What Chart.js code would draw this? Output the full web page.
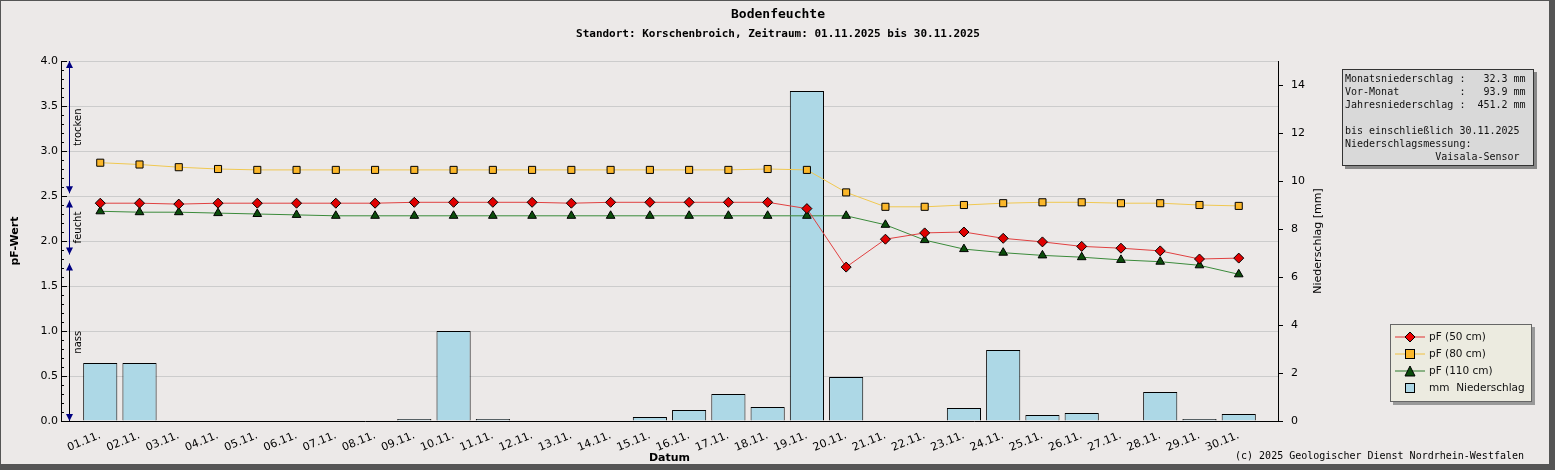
<!DOCTYPE html>
<html><head><meta charset="utf-8">
<script src="https://cdn.jsdelivr.net/npm/chart.js@4.4.7/dist/chart.umd.min.js"></script>
<style>
body{margin:0;background:#ece9e8;}
#wrap{position:relative;width:1555px;height:470px;box-sizing:border-box;border:1px solid #555;border-right:6px solid #555;border-bottom:6px solid #555;}
canvas{position:absolute;left:0;top:0;}
.box{position:absolute;font-family:"DejaVu Sans Mono",monospace;font-size:10px;line-height:13px;color:#111;}
#info{left:1341px;top:68px;width:186px;padding:2px 2px;background:#d9d9d9;border:1px solid #333;box-shadow:3px 3px 0 #888;white-space:pre;}
#leg{left:1389px;top:323px;width:132px;height:70px;padding:3px 4px;background:#ecebe0;border:1px solid #666;box-shadow:3px 3px 0 #999;font-family:"DejaVu Sans",sans-serif;font-size:10.5px;line-height:17px;}
.r{display:flex;align-items:center}.r span{width:30px;display:inline-block;position:relative;height:14px;margin-right:4px}
</style></head><body>
<div id="wrap">
<canvas id="c" width="1549" height="464"></canvas>
<div id="info" class="box">Monatsniederschlag :   32.3 mm
Vor-Monat          :   93.9 mm
Jahresniederschlag :  451.2 mm

bis einschließlich 30.11.2025
Niederschlagsmessung:
               Vaisala-Sensor</div>
<div id="leg" class="box">
<div class="r"><span><svg width="30" height="14"><line x1="0" y1="7" x2="30" y2="7" stroke="#e03030"/><polygon points="15,2 20,7 15,12 10,7" fill="#e00" stroke="#000"/></svg></span>pF (50 cm)</div>
<div class="r"><span><svg width="30" height="14"><line x1="0" y1="7" x2="30" y2="7" stroke="#f0c040"/><rect x="10.5" y="2.5" width="9" height="9" fill="#fbb72a" stroke="#000"/></svg></span>pF (80 cm)</div>
<div class="r"><span><svg width="30" height="14"><line x1="0" y1="7" x2="30" y2="7" stroke="#2a7a2a"/><polygon points="15,2 20,12 10,12" fill="#0b4d0b" stroke="#000"/></svg></span>pF (110 cm)</div>
<div class="r"><span><svg width="30" height="14"><rect x="10.5" y="2.5" width="9" height="9" fill="#add8e6" stroke="#000"/></svg></span>mm&nbsp; Niederschlag</div>
</div>
</div>
<script>
const days = ["01.11.","02.11.","03.11.","04.11.","05.11.","06.11.","07.11.","08.11.","09.11.","10.11.","11.11.","12.11.","13.11.","14.11.","15.11.","16.11.","17.11.","18.11.","19.11.","20.11.","21.11.","22.11.","23.11.","24.11.","25.11.","26.11.","27.11.","28.11.","29.11.","30.11."];
const pf50 = [2.42,2.42,2.41,2.42,2.42,2.42,2.42,2.42,2.43,2.43,2.43,2.43,2.42,2.43,2.43,2.43,2.43,2.43,2.36,1.71,2.02,2.09,2.10,2.03,1.99,1.94,1.92,1.89,1.80,1.81];
const pf80 = [2.87,2.85,2.82,2.80,2.79,2.79,2.79,2.79,2.79,2.79,2.79,2.79,2.79,2.79,2.79,2.79,2.79,2.80,2.79,2.54,2.38,2.38,2.40,2.42,2.43,2.43,2.42,2.42,2.40,2.39];
const pf110 = [2.33,2.32,2.32,2.31,2.30,2.29,2.28,2.28,2.28,2.28,2.28,2.28,2.28,2.28,2.28,2.28,2.28,2.28,2.28,2.28,2.18,2.01,1.91,1.87,1.84,1.82,1.79,1.77,1.73,1.63];
const rain = [2.42,2.42,0,0,0,0,0,0,0.08,3.75,0.08,0,0,0,0.17,0.46,1.12,0.58,13.75,1.83,0,0,0.54,2.96,0.25,0.33,0,1.21,0.08,0.29];
const zones = [["trocken",4.0,2.53,"#000080"],["feucht",2.45,1.85,"#000080"],["nass",1.75,0.0,"#000"]];

const pts = a => a.map((v,i)=>({x:i+1,y:v}));
const F = "'DejaVu Sans',sans-serif";

const deco = {
  id:"deco",
  afterDraw(ch){
    const c=ch.ctx, y=ch.scales.y, a=ch.chartArea;
    c.save();
    c.fillStyle="#000";c.textAlign="center";
    c.font="bold 13px 'DejaVu Sans Mono',monospace";c.fillText("Bodenfeuchte",777,17);
    c.font="bold 11px 'DejaVu Sans Mono',monospace";c.fillText("Standort: Korschenbroich, Zeitraum: 01.11.2025 bis 30.11.2025",777,36);
    c.font="10px 'DejaVu Sans Mono',monospace";c.textAlign="right";
    c.fillText("(c) 2025 Geologischer Dienst Nordrhein-Westfalen",1523,458);
    c.save();c.translate(1320,(a.top+a.bottom)/2);c.rotate(-Math.PI/2);
    c.textAlign="center";c.font="11px "+F;c.fillText("Niederschlag [mm]",0,0);c.restore();
    // minor ticks
    c.strokeStyle="#000";c.lineWidth=1;
    for(let v=0;v<=4.001;v+=0.1){const p=Math.round(y.getPixelForValue(v))+0.5;c.beginPath();c.moveTo(a.left,p);c.lineTo(a.left+(Math.round(v*10)%5===0?6:3),p);c.stroke();}
    const x=68.5;
    zones.forEach(([t,v1,v2,col])=>{
      const p1=y.getPixelForValue(v1),p2=y.getPixelForValue(v2);
      c.strokeStyle=col;c.beginPath();c.moveTo(x,p1);c.lineTo(x,p2);c.stroke();
      c.fillStyle="#000080";
      c.beginPath();c.moveTo(x,p1);c.lineTo(x-3.5,p1+7);c.lineTo(x+3.5,p1+7);c.fill();
      c.beginPath();c.moveTo(x,p2);c.lineTo(x-3.5,p2-7);c.lineTo(x+3.5,p2-7);c.fill();
      c.save();c.translate(x+11,(p1+p2)/2);c.rotate(-Math.PI/2);
      c.fillStyle="#000";c.textAlign="center";c.font="10px "+F;c.fillText(t,0,0);c.restore();
    });
    c.restore();
  }
};

new Chart(document.getElementById("c"),{
  data:{datasets:[
    {type:"line",label:"pF (50 cm)",data:pts(pf50),yAxisID:"y",borderColor:"#e04040",borderWidth:1,pointStyle:"rectRot",pointRadius:5,pointBackgroundColor:"#e00000",pointBorderColor:"#000",pointBorderWidth:1,order:1},
    {type:"line",label:"pF (80 cm)",data:pts(pf80),yAxisID:"y",borderColor:"#f0c850",borderWidth:1,pointStyle:"rect",pointRadius:5,pointBackgroundColor:"#fbb72a",pointBorderColor:"#000",pointBorderWidth:1,order:2},
    {type:"line",label:"pF (110 cm)",data:pts(pf110),yAxisID:"y",borderColor:"#3a8a3a",borderWidth:1,pointStyle:"triangle",pointRadius:5,pointBackgroundColor:"#0b4d0b",pointBorderColor:"#000",pointBorderWidth:1,order:3},
    {type:"bar",label:"mm Niederschlag",data:pts(rain),yAxisID:"y2",backgroundColor:"#add8e6",borderColor:"#000",borderWidth:1,barPercentage:0.87,categoryPercentage:1,order:4}
  ]},
  options:{
    animation:false,responsive:false,
    layout:{padding:{top:60,right:232,bottom:0,left:0}},
    plugins:{legend:{display:false},tooltip:{enabled:false}},
    scales:{
      x:{type:"linear",min:0,max:31,offset:false,
        afterBuildTicks(s){s.ticks=days.map((d,i)=>({value:i+1}));},
        afterFit(s){s.height=44;},
        grid:{display:false,drawTicks:true,tickLength:5,color:"#000"},border:{color:"#000"},
        ticks:{autoSkip:false,minRotation:22,maxRotation:22,color:"#000",font:{family:F,size:11},callback:v=>days[v-1]||""},
        title:{display:true,text:"Datum",color:"#000",font:{family:F,size:11,weight:"bold"},padding:0}},
      y:{position:"left",min:0,max:4,afterFit(s){s.width=60;},
        ticks:{stepSize:0.5,color:"#000",font:{family:F,size:11},callback:v=>v.toFixed(1)},
        grid:{color:"#cccccc",tickLength:0},border:{color:"#000"},
        title:{display:true,text:"pF-Wert",color:"#000",font:{family:F,size:11,weight:"bold"},padding:8}},
      y2:{position:"right",min:0,max:15,afterFit(s){s.width=40;},
        afterBuildTicks(s){s.ticks=[0,2,4,6,8,10,12,14].map(v=>({value:v}));},
        ticks:{color:"#000",font:{family:F,size:11},padding:8},
        grid:{drawOnChartArea:false,color:"#000",tickLength:5},border:{color:"#000"},
        title:{display:false}}
    }
  },
  plugins:[deco]
});
</script>
</body></html>
